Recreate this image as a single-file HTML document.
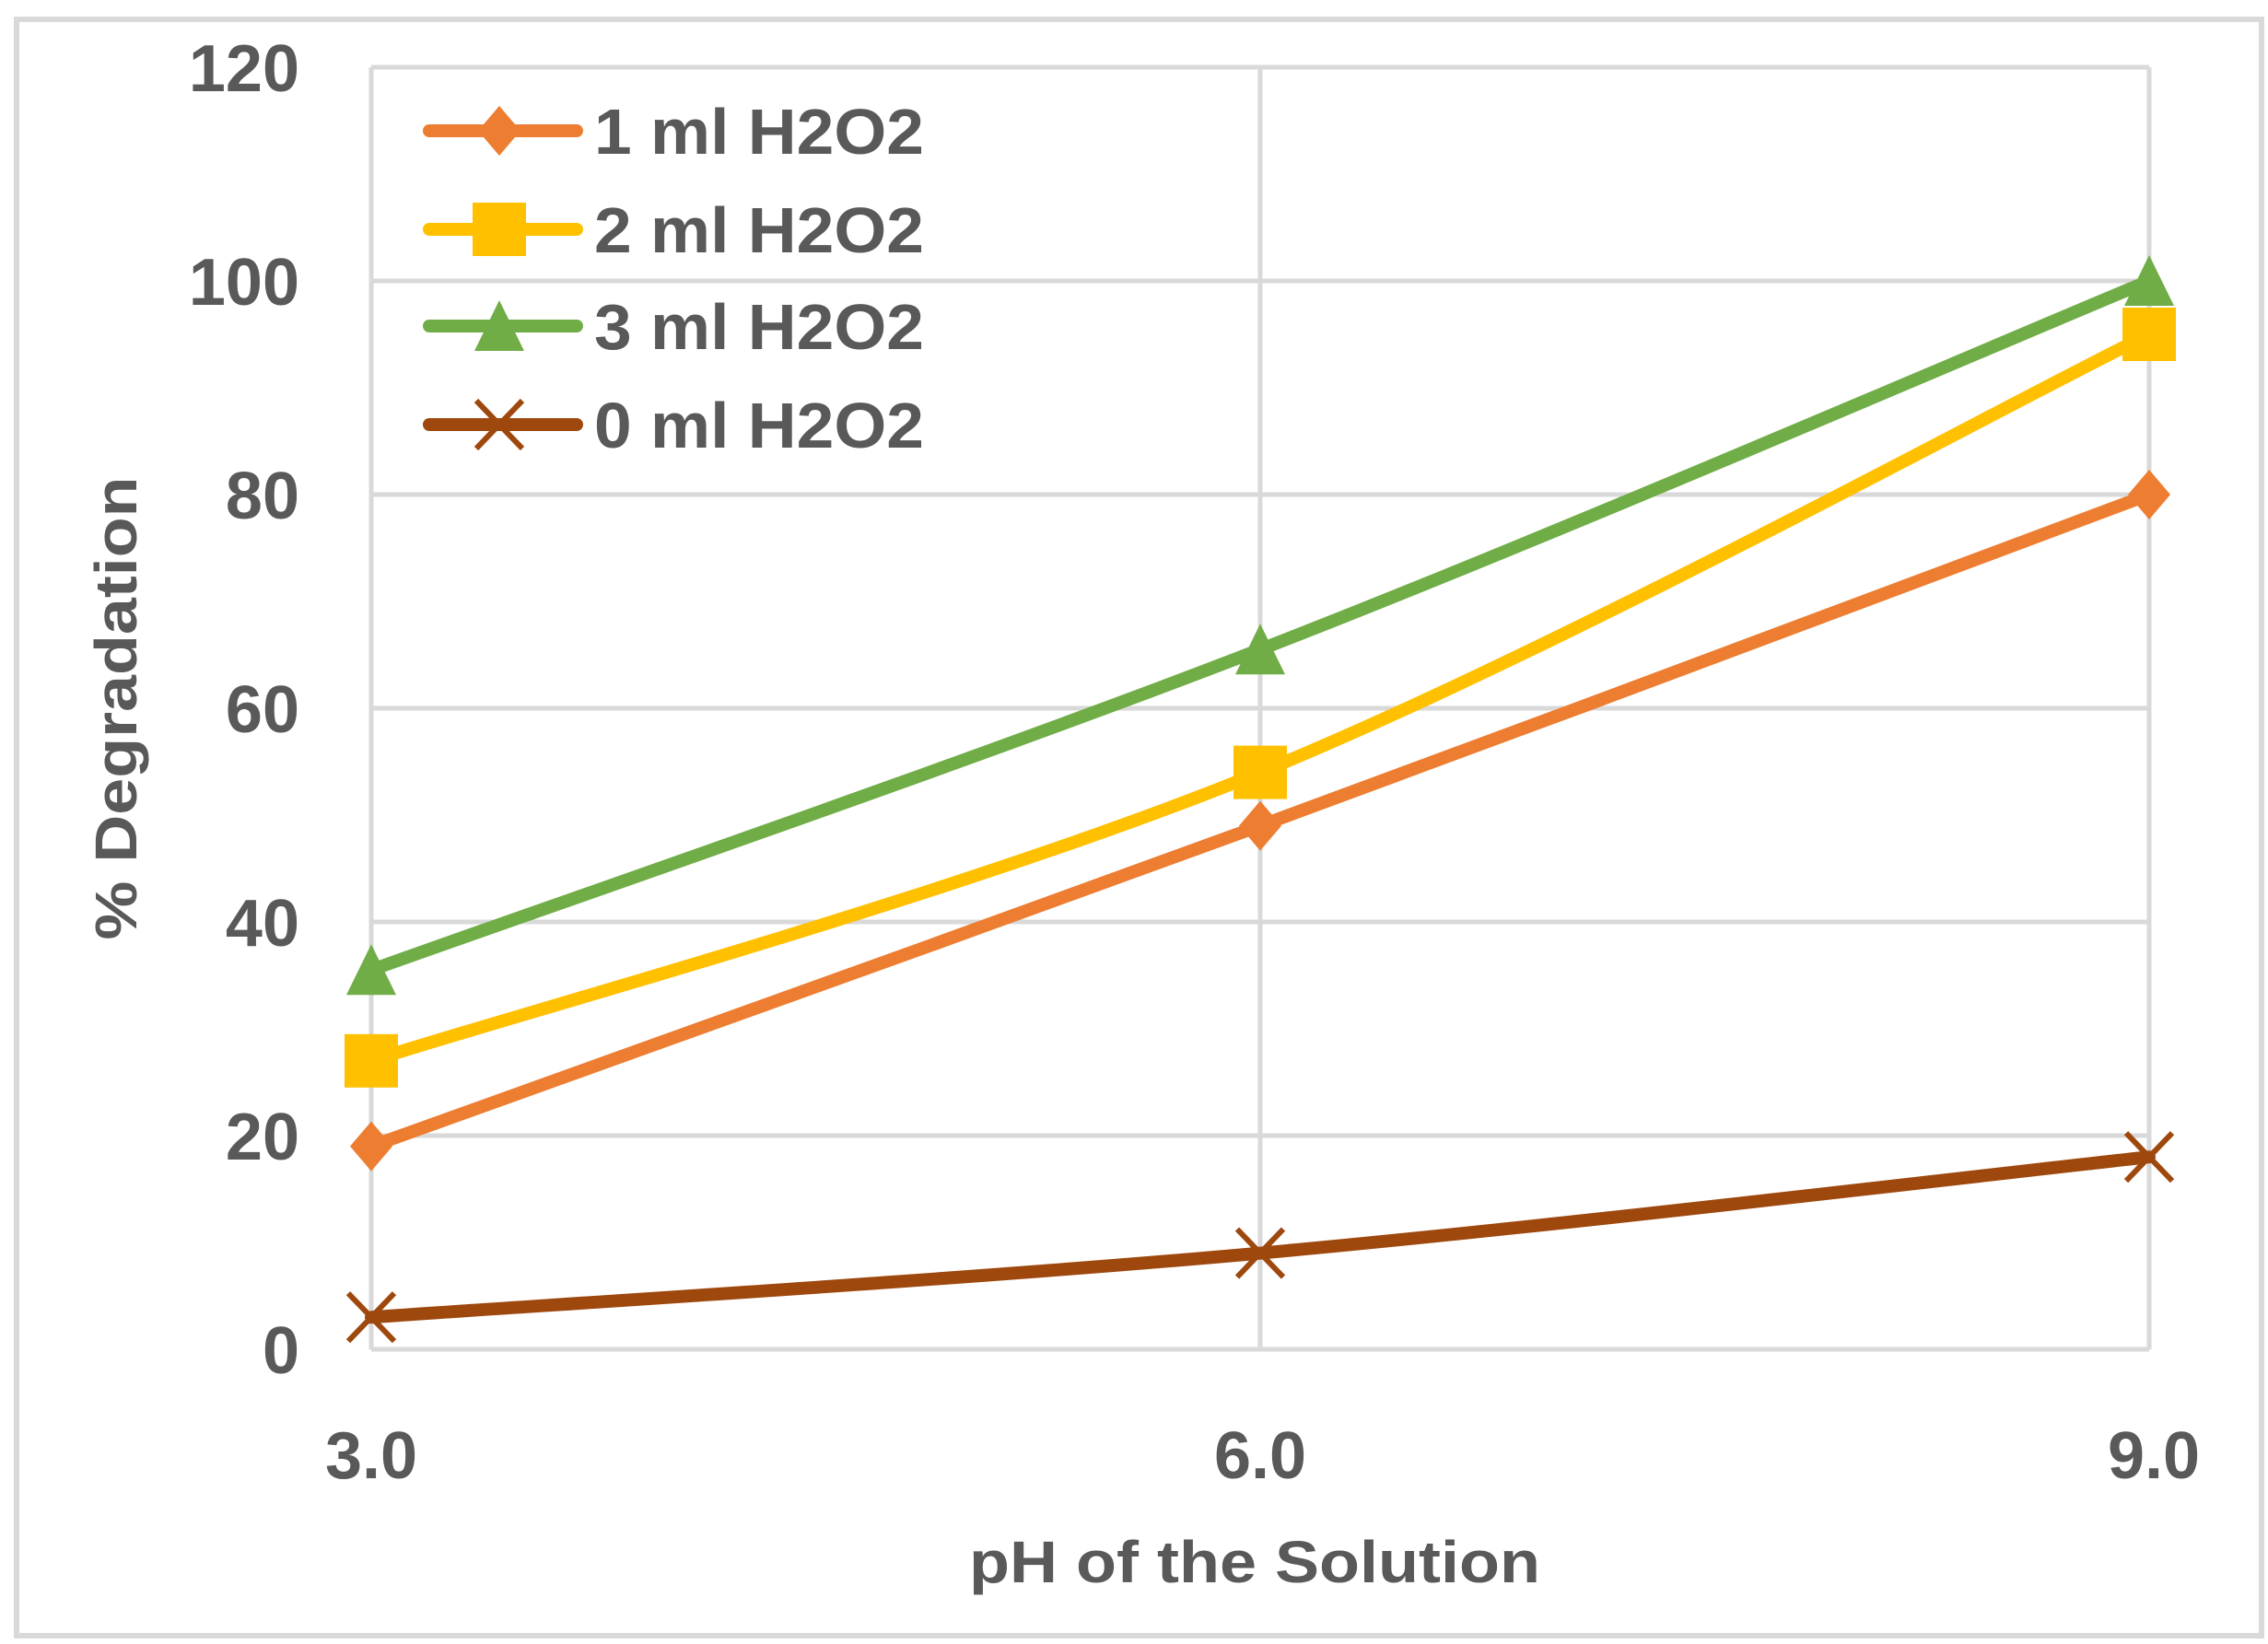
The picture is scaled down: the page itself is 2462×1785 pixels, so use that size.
<!DOCTYPE html>
<html><head><meta charset="utf-8"><style>html,body{margin:0;padding:0;background:#fff}svg{display:block}</style></head>
<body>
<svg width="2462" height="1785" viewBox="0 0 2462 1785" xmlns="http://www.w3.org/2000/svg">
<rect x="0" y="0" width="2462" height="1785" fill="#fff"/>
<rect x="18" y="21" width="2437" height="1755" fill="none" stroke="#D9D9D9" stroke-width="6"/>
<g stroke="#D9D9D9" stroke-width="5" fill="none">
<line x1="403" y1="1465" x2="2333" y2="1465"/>
<line x1="403" y1="1233" x2="2333" y2="1233"/>
<line x1="403" y1="1001" x2="2333" y2="1001"/>
<line x1="403" y1="769" x2="2333" y2="769"/>
<line x1="403" y1="537" x2="2333" y2="537"/>
<line x1="403" y1="305" x2="2333" y2="305"/>
<line x1="403" y1="73" x2="2333" y2="73"/>
<line x1="403" y1="73" x2="403" y2="1465"/>
<line x1="1368" y1="73" x2="1368" y2="1465"/>
<line x1="2333" y1="73" x2="2333" y2="1465"/>
</g>
<g font-family="Liberation Sans, sans-serif" font-weight="bold" font-size="72" fill="#595959" text-anchor="end">
<text x="325" y="1491">0</text>
<text x="325" y="1259">20</text>
<text x="325" y="1027">40</text>
<text x="325" y="795">60</text>
<text x="325" y="563">80</text>
<text x="325" y="331">100</text>
<text x="325" y="99">120</text>
</g>
<g font-family="Liberation Sans, sans-serif" font-weight="bold" font-size="72" fill="#595959" text-anchor="middle">
<text x="403" y="1605">3.0</text>
<text x="1368" y="1605">6.0</text>
<text x="2338" y="1605">9.0</text>
</g>
<g font-family="Liberation Sans, sans-serif" font-weight="bold" font-size="64" fill="#595959" text-anchor="middle">
<text x="1362" y="1718" textLength="620" lengthAdjust="spacingAndGlyphs">pH of the Solution</text>
<text transform="translate(148,769) rotate(-90)" x="0" y="0" textLength="503" lengthAdjust="spacingAndGlyphs">% Degradation</text>
</g>
<g fill="none" stroke-width="14" stroke-linecap="round">
<path stroke="#9E480E" d="M403,1430.2 C563.8,1418.6 1046.3,1389.6 1368,1360.6 C1689.7,1331.6 2172.2,1273.6 2333,1256.2"/>
<path stroke="#ED7D31" d="M403,1244.6 C563.8,1186.6 1046.3,1014.5 1368,896.6 C1689.7,778.7 2172.2,596.9 2333,537"/>
<path stroke="#FFC000" d="M403,1151.8 C563.8,1099.6 1046.3,970.1 1368,838.6 C1689.7,707.1 2172.2,442.3 2333,363"/>
<path stroke="#70AD47" d="M403,1053.2 C563.8,995.2 1046.3,829.9 1368,705.2 C1689.7,580.5 2172.2,371.7 2333,305"/>
</g>
<defs>
<path id="dia" d="M0,-27 L23,0 L0,27 L-23,0 Z"/>
<path id="tri" d="M0,-28 L27,27 L-27,27 Z"/>
<path id="ex" d="M-25,-26 L25,26 M-25,26 L25,-26"/>
</defs>
<g fill="#ED7D31">
<use href="#dia" x="403" y="1244.6"/><use href="#dia" x="1368" y="896.6"/><use href="#dia" x="2333" y="537"/>
<use href="#dia" x="542" y="142"/>
</g>
<g fill="#FFC000">
<rect x="374" y="1122.8" width="58" height="58"/><rect x="1339" y="809.6" width="58" height="58"/><rect x="2304" y="334" width="58" height="58"/>
<rect x="513" y="220" width="58" height="58"/>
</g>
<g fill="#70AD47">
<use href="#tri" x="403" y="1053.2"/><use href="#tri" x="1368" y="705.2"/><use href="#tri" x="2333" y="305"/>
<use href="#tri" x="542" y="354"/>
</g>
<g stroke="#9E480E" stroke-width="6" fill="none">
<use href="#ex" x="403" y="1430.2"/><use href="#ex" x="1368" y="1360.6"/><use href="#ex" x="2333" y="1256.2"/>
<use href="#ex" x="542" y="461"/>
</g>
<g stroke-width="14" stroke-linecap="round">
<line x1="466" y1="142" x2="626" y2="142" stroke="#ED7D31"/>
<line x1="466" y1="249" x2="626" y2="249" stroke="#FFC000"/>
<line x1="466" y1="354" x2="626" y2="354" stroke="#70AD47"/>
<line x1="466" y1="461" x2="626" y2="461" stroke="#9E480E"/>
</g>
<g font-family="Liberation Sans, sans-serif" font-weight="bold" font-size="70" fill="#595959">
<text x="645" y="167" textLength="358" lengthAdjust="spacingAndGlyphs">1 ml H2O2</text>
<text x="645" y="274" textLength="358" lengthAdjust="spacingAndGlyphs">2 ml H2O2</text>
<text x="645" y="379" textLength="358" lengthAdjust="spacingAndGlyphs">3 ml H2O2</text>
<text x="645" y="486" textLength="358" lengthAdjust="spacingAndGlyphs">0 ml H2O2</text>
</g>
</svg>
</body></html>
